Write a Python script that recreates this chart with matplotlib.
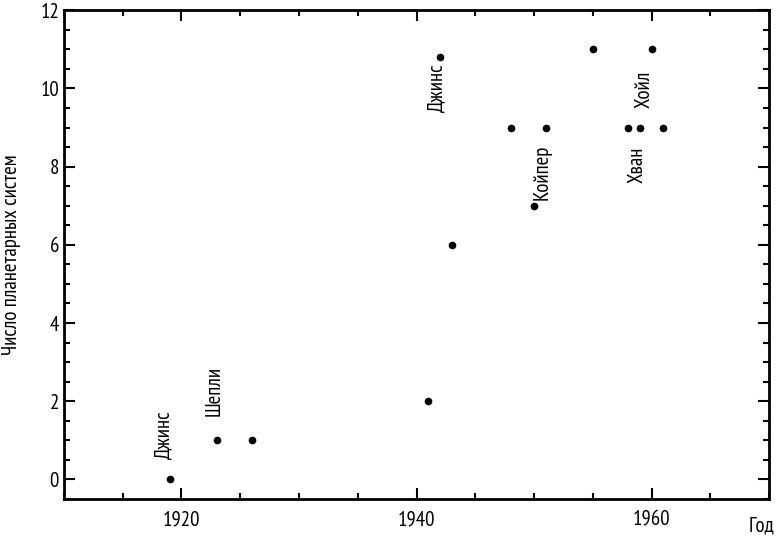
import matplotlib
matplotlib.use("Agg")
import matplotlib.pyplot as plt
from matplotlib.ticker import MultipleLocator

years = [1919, 1923, 1926, 1941, 1942, 1943, 1948, 1950, 1951, 1955, 1958, 1959, 1960, 1961]
counts = [0, 1, 1, 2, 10.8, 6, 9, 7, 9, 11, 9, 9, 11, 9]

label_names = ["Джинс", "Шепли", "Джинс", "Койпер", "Хван", "Хойл"]
label_x = [1918.5, 1922.8, 1941.7, 1950.7, 1958.8, 1959.4]
label_y = [0.52, 1.62, 9.4, 7.15, 7.58, 9.5]

FONT = ["PT Sans Narrow", "Roboto Condensed", "Liberation Sans", "DejaVu Sans"]
FS = 15

fig = plt.figure(figsize=(7.8, 5.36), dpi=100)
ax = fig.add_axes([0.082, 0.069, 0.904, 0.912])

ax.plot(years, counts, 'o', color='black', markersize=4.5, linestyle='none')

for name, x, y in zip(label_names, label_x, label_y):
    ax.text(x, y, name, rotation=90, ha='center', va='bottom', fontsize=FS, family=FONT)

ax.set_xlim(1910, 1970)
ax.set_ylim(-0.5, 12)
ax.xaxis.set_major_locator(MultipleLocator(20))
ax.xaxis.set_minor_locator(MultipleLocator(5))
ax.yaxis.set_major_locator(MultipleLocator(2))
ax.yaxis.set_minor_locator(MultipleLocator(0.5))
ax.tick_params(which='both', direction='in', top=True, right=True, width=1.5, labelsize=FS)
ax.tick_params(which='major', length=8)
ax.tick_params(which='minor', length=4)
ax.tick_params(axis='x', pad=8)
for lab in ax.get_xticklabels() + ax.get_yticklabels():
    lab.set_family(FONT)
for s in ax.spines.values():
    s.set_linewidth(2)

fig.text(0.015, 0.524, "Число планетарных систем", rotation=90, ha='center', va='center',
         fontsize=FS, family=FONT)
fig.text(0.976, 0.019, "Год", ha='center', va='center', fontsize=FS, family=FONT)

fig.savefig("out.png", dpi=100)
